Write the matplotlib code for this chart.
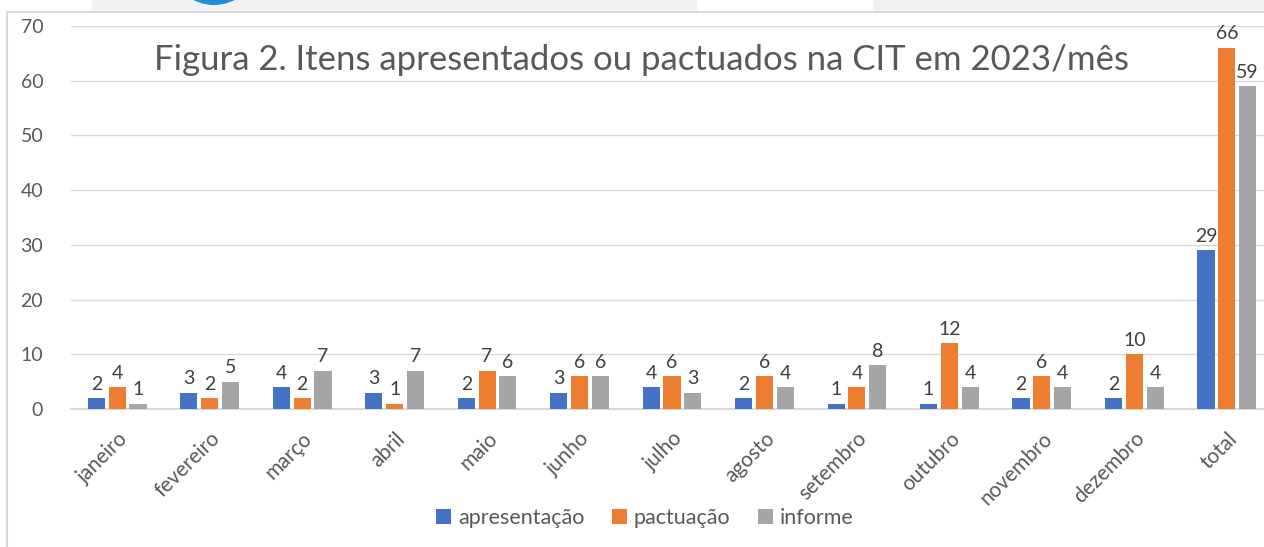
import numpy as np
import matplotlib.pyplot as plt
from matplotlib.patches import Rectangle, Ellipse

# chart data
months = ['janeiro', 'fevereiro', 'março', 'abril', 'maio', 'junho', 'julho',
          'agosto', 'setembro', 'outubro', 'novembro', 'dezembro', 'total']
apresentacao = [2, 3, 4, 3, 2, 3, 4, 2, 1, 1, 2, 2, 29]
pactuacao = [4, 2, 2, 1, 7, 6, 6, 6, 4, 12, 6, 10, 66]
informe = [1, 5, 7, 7, 6, 6, 3, 4, 8, 4, 4, 4, 59]
series_names = ['apresentação', 'pactuação', 'informe']
colors = ['#4472C4', '#ED7D31', '#A5A5A5']
yticks = [0, 10, 20, 30, 40, 50, 60, 70]
title = 'Figura 2. Itens apresentados ou pactuados na CIT em 2023/mês'

plt.rcParams['font.family'] = ['Lato', 'DejaVu Sans']

fig = plt.figure(figsize=(12.64, 5.47), dpi=100)
W, H = 1264, 547

# decorative frame from the screenshot
fig.patches.append(Rectangle((92 / W, 1 - 12 / H), 605 / W, 12 / H, transform=fig.transFigure,
                             facecolor='#f2f2f2', edgecolor='none', zorder=0))
fig.patches.append(Rectangle((873 / W, 1 - 12 / H), 391 / W, 12 / H, transform=fig.transFigure,
                             facecolor='#f2f2f2', edgecolor='none', zorder=0))
fig.patches.append(Ellipse((214 / W, 1 - (-30) / H), 80 / W, 70 / H, transform=fig.transFigure,
                           facecolor='#1f8fd6', edgecolor='none', zorder=1))
fig.lines.append(plt.Line2D([7 / W, 1], [1 - 12 / H, 1 - 12 / H], transform=fig.transFigure,
                            color='#d9d9d9', lw=1.5))
fig.lines.append(plt.Line2D([7 / W, 7 / W], [0, 1 - 12 / H], transform=fig.transFigure,
                            color='#d9d9d9', lw=1.5))

ax = fig.add_axes([71 / W, 138 / H, 1202 / W, 383 / H])

x = np.arange(len(months))
bw = 0.185
step = 0.225
for i, (vals, name, c) in enumerate(zip([apresentacao, pactuacao, informe], series_names, colors)):
    bars = ax.bar(x + (i - 1) * step, vals, width=bw, color=c, label=name, zorder=3)
    ax.bar_label(bars, padding=4, fontsize=14, color='#404040')

ax.set_xlim(-0.5, len(months) - 0.5)
ax.set_ylim(0, 70)
ax.set_yticks(yticks)
ax.set_yticklabels([str(v) for v in yticks], fontsize=14, color='#595959')
ax.set_xticks(x)
ax.set_xticklabels(months, rotation=45, ha='right', rotation_mode='anchor',
                   fontsize=15, color='#595959')
ax.tick_params(axis='both', length=0)
ax.tick_params(axis='y', pad=20)
ax.tick_params(axis='x', pad=14)
ax.grid(axis='y', color='#d9d9d9', lw=1, zorder=0)
for s in ['left', 'right', 'top']:
    ax.spines[s].set_visible(False)
ax.spines['bottom'].set_color('#d9d9d9')
ax.spines['bottom'].set_linewidth(1.5)

ax.text(0.475, 0.91, title, transform=ax.transAxes, ha='center', va='center',
        fontsize=25, color='#595959')

fig.legend(loc='center', bbox_to_anchor=(645 / W, 1 - 518 / H), ncol=3, frameon=False,
           fontsize=15.5, handlelength=0.7, handleheight=0.7, handletextpad=0.3,
           columnspacing=1.3, labelcolor='#595959')

fig.savefig('out.png', dpi=100)
